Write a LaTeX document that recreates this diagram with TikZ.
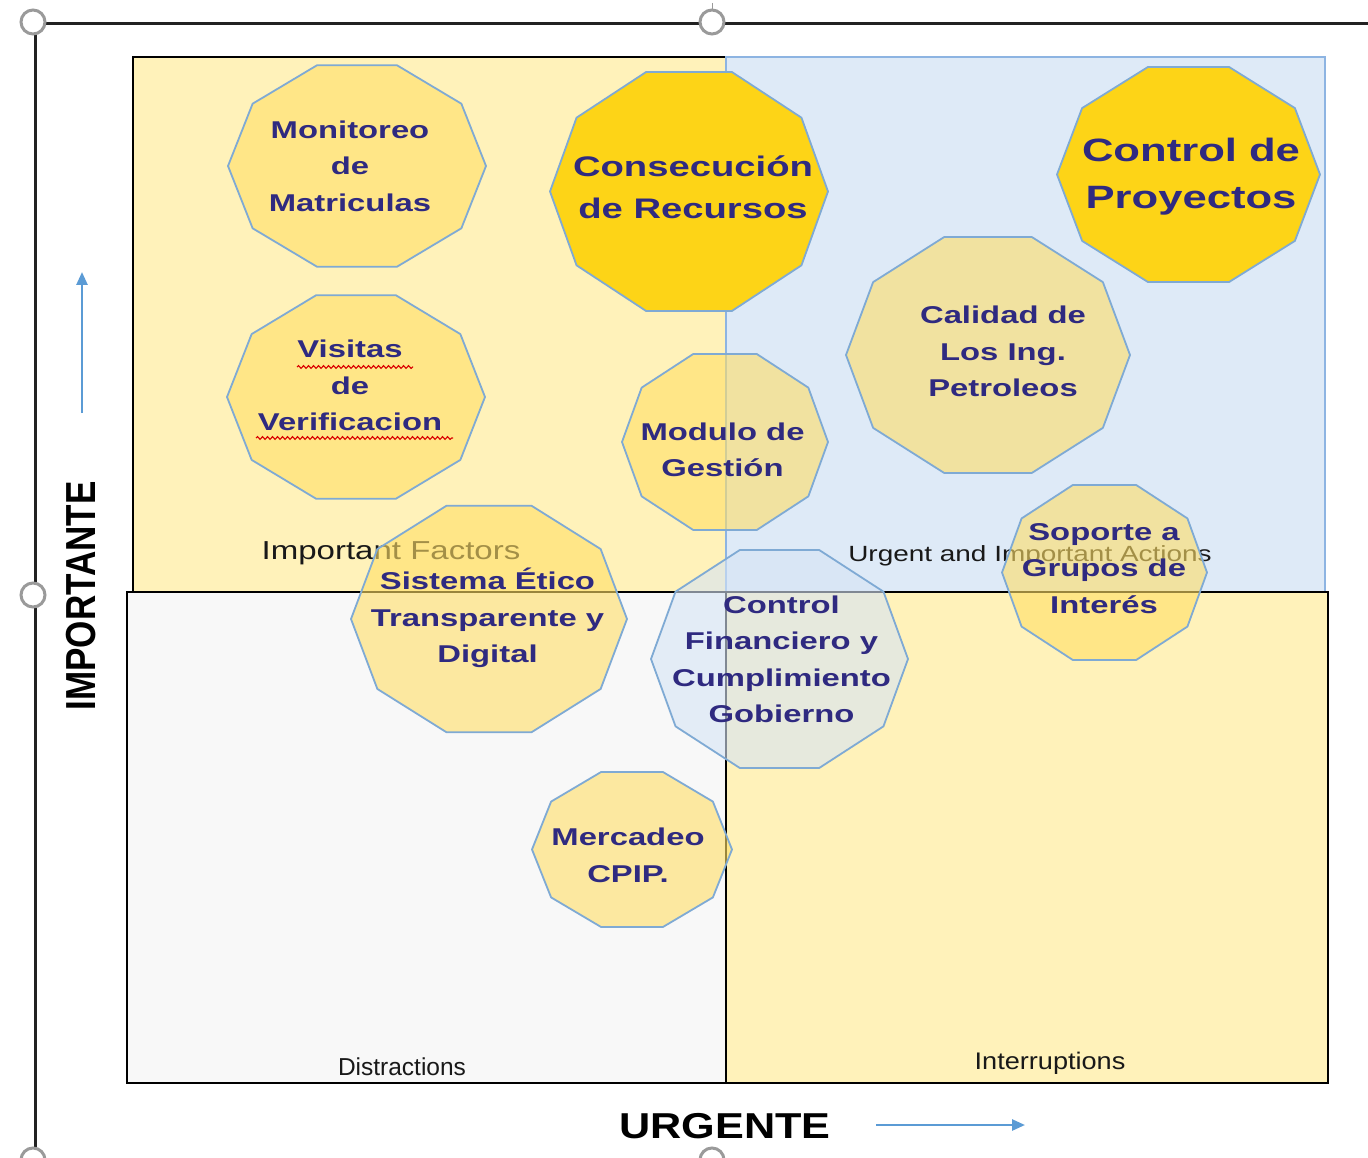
\documentclass[tikz,border=0pt]{standalone}
\usepackage{fontspec}
\setmainfont{Liberation Sans}
\newfontfamily\nodefont{Liberation Sans}[FakeStretch=1.35]
\newfontfamily\quadfont{Liberation Sans}[FakeStretch=1.27]
\newfontfamily\plainfont{Liberation Sans}
\newfontfamily\intfont{Liberation Sans}[FakeStretch=1.13]
\newfontfamily\urgfont{Liberation Sans}[FakeStretch=1.2]
\newfontfamily\impfont{Liberation Sans}[FakeStretch=0.835]
\usetikzlibrary{arrows.meta,decorations.pathmorphing}
\definecolor{qyellow}{HTML}{FFF2BA}
\definecolor{qblue}{HTML}{DEEAF7}
\definecolor{qwhite}{HTML}{F8F8F8}
\definecolor{qblueedge}{HTML}{8DB4E2}
\definecolor{shyellow}{HTML}{FFDE66}
\definecolor{shgold}{HTML}{FDD417}
\definecolor{shblue}{HTML}{D6E4F5}
\definecolor{shedge}{HTML}{7FAAD4}
\definecolor{txt}{HTML}{2F2A80}
\definecolor{arrowblue}{HTML}{5B9BD5}
\definecolor{handlegray}{HTML}{9A9A9A}
\definecolor{framedark}{HTML}{222222}
\newcommand\decashape[5]{% style, cx, cy, rx, ry
  \draw[#1] plot[samples at={0,36,...,324}, variable=\t] ({#2+#4*cos(\t)},{#3+#5*sin(\t)}) -- cycle;}
\tikzset{
  decoY/.style={fill=shyellow, fill opacity=0.6, draw=shedge, line width=1.8pt, line join=round},
  decoG/.style={fill=shgold, draw=shedge, line width=1.8pt, line join=round},
  decoB/.style={fill=shblue, fill opacity=0.6, draw=shedge, line width=1.8pt, line join=round},
  ntext/.style={text=txt, align=center, inner sep=0pt, font=\nodefont\bfseries\fontsize{24.3}{36.5}\selectfont},
  qlabel/.style={text=black!90, inner sep=0pt, anchor=base},
  handlecirc/.style={draw=handlegray, line width=3pt, fill=white},
  axisarrow/.style={draw=arrowblue, line width=2.6pt, -{Triangle[length=13pt,width=11pt]}},
  quadedge/.style={draw=black, line width=1.8pt},
  squiggle/.style={draw=red!85!black, line width=1.1pt, decorate, decoration={snake, amplitude=1.4pt, segment length=5pt}}
}
\begin{document}
\begin{tikzpicture}[x=1pt,y=-1pt]
\useasboundingbox (0,0) rectangle (1368,1158);
\fill[white] (0,0) rectangle (1368,1158);
% frame
\coordinate (ftl) at (33,24);
\coordinate (ftr) at (1368,24);
\coordinate (fbl) at (35,1158);
\draw[framedark, line width=3pt] (ftl) -- (ftr);
\draw[framedark, line width=3pt] (35,24) -- (fbl);
% quadrants
\path[fill=qyellow, draw=black, line width=1.5pt] (133,57) rectangle (726,592);
\path[fill=qblue, draw=qblueedge, line width=1.5pt] (726,57) rectangle (1325,592);
\path[fill=qwhite] (127,592) rectangle (726,1083);
\path[fill=qyellow] (726,592) rectangle (1328,1083);
\draw[quadedge] (127,592) rectangle (726,1083);
\draw[quadedge] (726,592) rectangle (1328,1083);
% quadrant labels
\node[qlabel, font=\quadfont\fontsize{26}{30}\selectfont] (lif) at (391,559) {Important Factors};
\node[qlabel, font=\quadfont\fontsize{22}{26}\selectfont] (lua) at (1030,561) {Urgent and Important Actions};
\node[qlabel, font=\plainfont\fontsize{24.5}{28}\selectfont] (ldi) at (402,1075) {Distractions};
\node[qlabel, font=\intfont\fontsize{24}{28}\selectfont] (lin) at (1050,1069) {Interruptions};
% shapes
\decashape{decoY}{357}{166}{129}{106}
\node[ntext] (mon) at (350,166) {Monitoreo\\de\\Matriculas};
\decashape{decoG}{689}{191.5}{139}{125.6}
\node[ntext, font=\nodefont\bfseries\fontsize{28.3}{42}\selectfont] (con) at (693,187) {Consecución\\de Recursos};
\decashape{decoG}{1188.5}{174.5}{131.5}{113}
\node[ntext, font=\nodefont\bfseries\fontsize{32.3}{47}\selectfont] (cpr) at (1191,177) {Control de\\Proyectos};
\decashape{decoY}{356}{397}{129}{107}
\node[ntext] (vis) at (350,385.5) {Visitas\\de\\Verificacion};
\draw[squiggle] (297,367) -- (413,367);
\draw[squiggle] (256,438) -- (453,438);
\decashape{decoY}{725}{442}{103}{92.5}
\node[ntext] (mod) at (722.5,450) {Modulo de\\Gestión};
\decashape{decoY}{988}{355}{142}{124}
\node[ntext] (cal) at (1003,351.5) {Calidad de\\Los Ing.\\Petroleos};
\decashape{decoY}{489}{619}{138}{119}
\node[ntext] (sis) at (487.5,618) {Sistema Ético\\Transparente y\\Digital};
\decashape{decoB}{779.5}{659}{128.5}{114.6}
\node[ntext] (cfi) at (781.5,659.5) {Control\\Financiero y\\Cumplimiento\\Gobierno};
\decashape{decoY}{1104.5}{572.5}{102.5}{92}
\node[ntext] (sop) at (1104,568.5) {Soporte a\\Grupos de\\Interés};
\decashape{decoY}{632}{849.5}{100}{81.5}
\node[ntext] (mer) at (628,855.5) {Mercadeo\\CPIP.};
% axis labels and arrows
\node[font=\impfont\bfseries\fontsize{42}{46}\selectfont, rotate=90, inner sep=0pt] (imp) at (81,596) {IMPORTANTE};
\node[font=\urgfont\bfseries\fontsize{36}{40}\selectfont, inner sep=0pt, anchor=base] (urg) at (725,1138) {URGENTE};
\coordinate (va) at (82,413);
\coordinate (vb) at (82,272);
\coordinate (ha) at (876,1125);
\coordinate (hb) at (1025,1125);
\draw[axisarrow] (va) -- (vb);
\draw[axisarrow] (ha) -- (hb);
% handles
\draw[handlegray, line width=1pt] (712,3) -- (712,10);
\node[handlecirc, circle, minimum size=24pt, inner sep=0pt] (h1) at (33,22) {};
\node[handlecirc, circle, minimum size=24pt, inner sep=0pt] (h2) at (712,22) {};
\node[handlecirc, circle, minimum size=24pt, inner sep=0pt] (h3) at (33,595) {};
\node[handlecirc, circle, minimum size=24pt, inner sep=0pt] (h4) at (33,1160) {};
\node[handlecirc, circle, minimum size=24pt, inner sep=0pt] (h5) at (712,1160) {};
\end{tikzpicture}
\end{document}
